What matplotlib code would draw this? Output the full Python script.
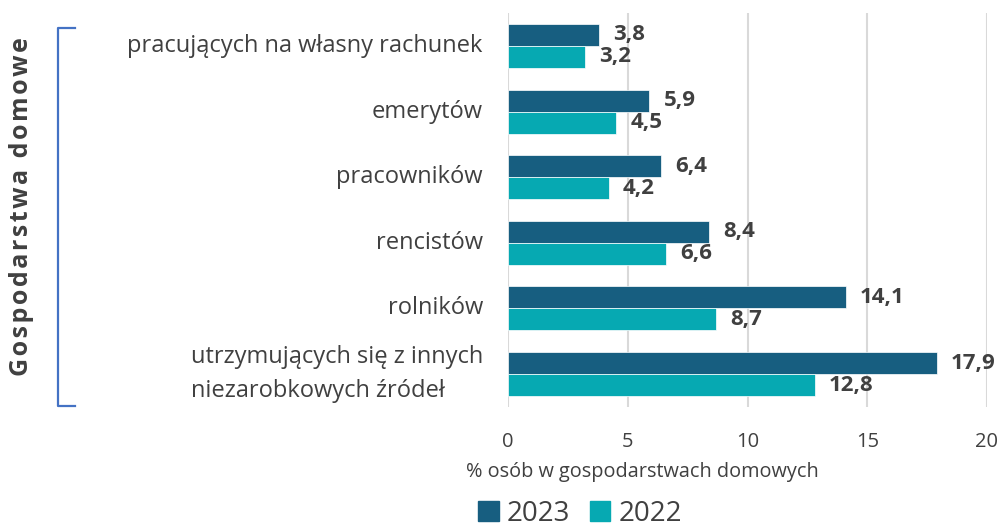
import matplotlib
matplotlib.use("Agg")
import matplotlib.pyplot as plt
from matplotlib.lines import Line2D
from matplotlib.patches import Patch
import numpy as np

plt.rcParams['font.family'] = ['Open Sans', 'DejaVu Sans']

categories = [
    "pracujących na własny rachunek",
    "emerytów",
    "pracowników",
    "rencistów",
    "rolników",
    "utrzymujących się z innych\nniezarobkowych źródeł",
]
v2023 = [3.8, 5.9, 6.4, 8.4, 14.1, 17.9]
v2022 = [3.2, 4.5, 4.2, 6.6, 8.7, 12.8]
x_ticks = [0, 5, 10, 15, 20]

c2023 = '#175e80'
c2022 = '#06a9b2'
text_col = '#404040'

fig = plt.figure(figsize=(10, 5.27), dpi=100)
ax = fig.add_axes([0.508, 0.228, 0.479, 0.747])

y = np.arange(len(categories))
h = 0.335
ax.barh(y - h / 2, v2023, height=h, color=c2023, edgecolor='white', linewidth=0.5, zorder=3)
ax.barh(y + h / 2, v2022, height=h, color=c2022, edgecolor='white', linewidth=0.5, zorder=3)

# value labels, Polish decimal comma
for yi, v in zip(y, v2023):
    ax.text(v + 0.6, yi - h / 2, f"{v:.1f}".replace('.', ','), va='center', ha='left',
            fontsize=16, fontweight='bold', fontstyle='normal', color=text_col)
for yi, v in zip(y, v2022):
    ax.text(v + 0.6, yi + h / 2, f"{v:.1f}".replace('.', ','), va='center', ha='left',
            fontsize=16, fontweight='bold', fontstyle='normal', color=text_col)

ax.set_xlim(0, 20)
ax.set_ylim(len(categories) - 0.5, -0.5)
ax.set_xticks(x_ticks)
ax.set_xticklabels([str(t) for t in x_ticks], fontsize=14.5, color=text_col)
ax.tick_params(axis='x', length=0, pad=18)
ax.set_yticks(y)
ax.set_yticklabels([])
ax.tick_params(axis='y', length=0)
for yi, lab in zip(y, categories):
    ax.text(-1.05, yi, lab, ha='right', va='center', multialignment='left',
            fontsize=17, color=text_col, linespacing=1.6)
ax.grid(axis='x', color='#d9d9d9', linewidth=1.5, zorder=0)
for s in ax.spines.values():
    s.set_visible(False)

fig.text(0.642, 1 - 472 / 527, "% osób w gospodarstwach domowych", ha='center', va='center',
         fontsize=14.3, color=text_col)

# bracket + vertical label
bc = '#4472c4'
x0, x1 = 0.058, 0.075
yt, yb = 1 - 28 / 527, 1 - 406 / 527
fig.add_artist(Line2D([x1, x0, x0, x1], [yt, yt, yb, yb], color=bc, linewidth=1.6))
side_label = "\u200a".join("Gospodarstwa domowe")
fig.text(0.022, 1 - 207 / 527, side_label, rotation=90, ha='center', va='center',
         fontsize=18, fontweight='bold', fontstyle='normal', color=text_col)

handles = [Patch(color=c2023, label='2023'), Patch(color=c2022, label='2022')]
fig.legend(handles=handles, loc='center', bbox_to_anchor=(0.58, 0.025), ncol=2,
           frameon=False, fontsize=20, handlelength=0.75, handleheight=0.75,
           handletextpad=0.3, columnspacing=0.7, labelcolor=text_col)

fig.savefig('out.png', dpi=100)
